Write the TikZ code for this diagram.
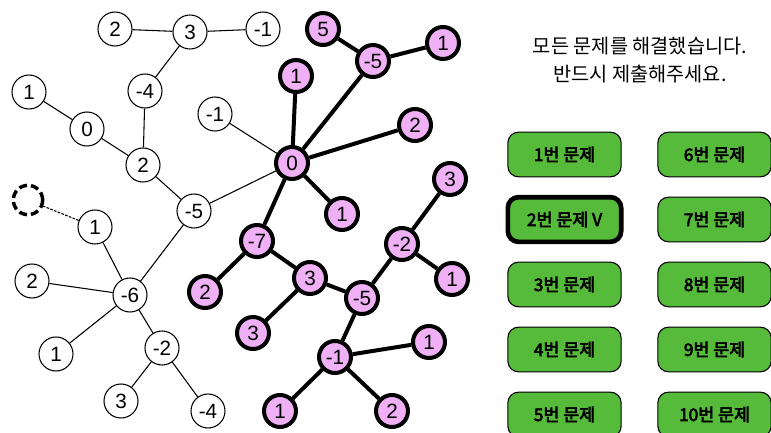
\documentclass[tikz,border=0pt]{standalone}
\usepackage{fontspec}
\setmainfont{Liberation Sans}
\newfontfamily\kofont{Noto Sans CJK KR}
\newfontfamily\kobold{Noto Sans CJK KR}[FakeBold=3.5]
\usepackage{xcolor}
\usepackage{tikz}

\definecolor{pinkfill}{HTML}{EFB0F5}
\definecolor{btngreen}{HTML}{56BA3A}

\begin{document}
\begin{tikzpicture}[
    x=0.75pt, y=-0.75pt,
    plain/.style={
        circle,
        draw,
        line width=0.8pt,
        fill=white,
        minimum size=25.5pt,
        inner sep=0pt,
        font=\fontsize{15.5}{15.5}\selectfont
    },
    picked/.style={
        circle,
        draw,
        line width=3pt,
        fill=pinkfill,
        minimum size=24pt,
        inner sep=0pt,
        font=\fontsize{15.5}{15.5}\selectfont
    },
    ghost/.style={
        circle,
        draw,
        dashed,
        dash pattern=on 6pt off 3pt,
        line width=2.6pt,
        minimum size=22pt,
        inner sep=0pt
    },
    btn/.style={
        draw,
        line width=0.8pt,
        fill=btngreen,
        rounded corners=8pt,
        minimum width=85pt,
        minimum height=33.5pt,
        font=\kobold\fontsize{13}{13}\selectfont
    },
    thin/.style={
        line width=0.8pt
    },
    thick edge/.style={
        line width=3pt
    }
]

\useasboundingbox (0,0) rectangle (771,432);

% white tree
\node[plain] (wa) at (115,29) {2};
\node[plain] (wb) at (190,32) {3};
\node[plain] (wc) at (263,29) {-1};
\node[plain] (wd) at (145,91) {-4};
\node[plain] (we) at (29,92) {1};
\node[plain] (wf) at (87,129) {0};
\node[plain] (wg) at (143,165) {2};
\node[plain] (wh) at (215,114) {-1};
\node[plain] (wi) at (194,211) {-5};
\node[ghost] (wx) at (28,200) {};
\node[plain] (wj) at (95,227) {1};
\node[plain] (wk) at (32,281) {2};
\node[plain] (wl) at (130,295) {-6};
\node[plain] (wm) at (56,354) {1};
\node[plain] (wn) at (162,348) {-2};
\node[plain] (wo) at (121,401) {3};
\node[plain] (wp) at (208,411) {-4};

% pink tree
\node[picked] (pa) at (323,29) {5};
\node[picked] (pb) at (373,61) {-5};
\node[picked] (pc) at (443,43) {1};
\node[picked] (pd) at (296,76) {1};
\node[picked] (pe) at (292,163) {0};
\node[picked] (pf) at (415,125) {2};
\node[picked] (pg) at (342,214) {1};
\node[picked] (ph) at (450,179) {3};
\node[picked] (pi) at (257,241) {-7};
\node[picked] (pj) at (402,244) {-2};
\node[picked] (pk) at (310,278) {3};
\node[picked] (pl) at (452,279) {1};
\node[picked] (pm) at (205,292) {2};
\node[picked] (pn) at (362,298) {-5};
\node[picked] (po) at (253,333) {3};
\node[picked] (pp) at (429,342) {1};
\node[picked] (pq) at (335,357) {-1};
\node[picked] (pr) at (280,411) {1};
\node[picked] (ps) at (392,411) {2};

% message
\node[font=\kofont\fontsize{14.8}{20.5}\selectfont, align=center] (msg) at (640,60)
{모든 문제를 해결했습니다.\\반드시 제출해주세요.};

% buttons
\node[btn] (b1) at (564.5,154.5) {1번 문제};
\node[btn, line width=3.5pt] (b2) at (564.5,219.5) {2번 문제 V};
\node[btn] (b3) at (564.5,284.5) {3번 문제};
\node[btn] (b4) at (564.5,349.5) {4번 문제};
\node[btn] (b5) at (564.5,414.5) {5번 문제};
\node[btn] (b6) at (714.5,154.5) {6번 문제};
\node[btn] (b7) at (714.5,219.5) {7번 문제};
\node[btn] (b8) at (714.5,284.5) {8번 문제};
\node[btn] (b9) at (714.5,349.5) {9번 문제};
\node[btn] (b10) at (714.5,414.5) {10번 문제};

% thin edges
\draw[thin] (wa) -- (wb);
\draw[thin] (wb) -- (wc);
\draw[thin] (wb) -- (wd);
\draw[thin] (wd) -- (wg);
\draw[thin] (we) -- (wf);
\draw[thin] (wf) -- (wg);
\draw[thin] (wg) -- (wi);
\draw[thin] (wi) -- (pe);
\draw[thin] (wh) -- (pe);
\draw[thin] (wi) -- (wl);
\draw[thin] (wl) -- (wj);
\draw[thin, dashed, dash pattern=on 2pt off 1pt] (wj) -- (wx);
\draw[thin] (wl) -- (wk);
\draw[thin] (wl) -- (wm);
\draw[thin] (wl) -- (wn);
\draw[thin] (wn) -- (wo);
\draw[thin] (wn) -- (wp);

% thick edges
\draw[thick edge] (pe) -- (pd);
\draw[thick edge] (pe) -- (pb);
\draw[thick edge] (pb) -- (pa);
\draw[thick edge] (pb) -- (pc);
\draw[thick edge] (pe) -- (pf);
\draw[thick edge] (pe) -- (pg);
\draw[thick edge] (pe) -- (pi);
\draw[thick edge] (pi) -- (pm);
\draw[thick edge] (pi) -- (pk);
\draw[thick edge] (pk) -- (po);
\draw[thick edge] (pk) -- (pn);
\draw[thick edge] (pn) -- (pj);
\draw[thick edge] (pj) -- (ph);
\draw[thick edge] (pj) -- (pl);
\draw[thick edge] (pn) -- (pq);
\draw[thick edge] (pq) -- (pp);
\draw[thick edge] (pq) -- (pr);
\draw[thick edge] (pq) -- (ps);

\end{tikzpicture}
\end{document}
